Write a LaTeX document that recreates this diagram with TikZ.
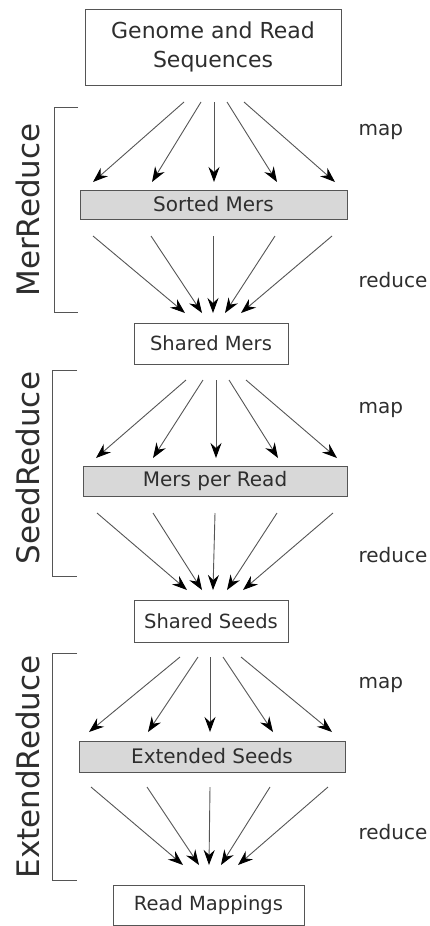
\documentclass[tikz,border=0pt]{standalone}
\usepackage{fontspec}
\setmainfont{DejaVu Sans}
\usetikzlibrary{arrows.meta}
\definecolor{boxline}{HTML}{555555}
\definecolor{linegray}{HTML}{555555}
\definecolor{txt}{HTML}{2E2E2E}
\definecolor{fillgray}{HTML}{D8D8D8}
\begin{document}
\begin{tikzpicture}[x=1pt,y=-1pt,
  box/.style={draw=boxline, line width=1pt, text=txt, inner sep=0pt,
    font=\fontsize{19.5}{24}\selectfont},
  graybox/.style={box, fill=fillgray, font=\fontsize{20}{24}\selectfont},
  arr/.style={draw=linegray, line width=0.9pt,
    -{Stealth[length=15pt,width=11pt,inset=5pt,color=black]}},
  brack/.style={draw=boxline, line width=1pt},
  phase/.style={rotate=90, text=txt, font=\fontsize{31}{31}\selectfont},
  steplabel/.style={anchor=west, text=txt, font=\fontsize{20}{24}\selectfont}]
\useasboundingbox (0,0) rectangle (429,926);

% ---------- nodes ----------
\node[box, minimum width=256pt, minimum height=76pt, align=center,
      font=\fontsize{22}{29}\selectfont] (genome) at (213,47)
      {Genome and Read\\Sequences};
\node[graybox, minimum width=267pt, minimum height=29pt] (sorted) at (213.5,204.5) {Sorted Mers};
\node[box, minimum width=154pt, minimum height=41pt] (sharedmers) at (211,343.5) {Shared Mers};
\node[graybox, minimum width=264pt, minimum height=30pt] (mpr) at (215,481) {Mers per Read};
\node[box, minimum width=154pt, minimum height=42pt] (sharedseeds) at (211,621) {Shared Seeds};
\node[graybox, minimum width=266pt, minimum height=31pt] (ext) at (212,756.5) {Extended Seeds};
\node[box, minimum width=191pt, minimum height=40pt] (mappings) at (208.5,905) {Read Mappings};

% ---------- phase brackets and labels ----------
\draw[brack] (78,107) -- (54,107) -- (54,312) -- (78,312);
\draw[brack] (77,370) -- (52,370) -- (52,576) -- (77,576);
\draw[brack] (77,653) -- (52,653) -- (52,880) -- (77,880);
\node[phase] (lmer) at (28,210) {MerReduce};
\node[phase] (lseed) at (28,468) {SeedReduce};
\node[phase] (lext) at (28,767) {ExtendReduce};

\node[steplabel] (map1) at (355,132) {map};
\node[steplabel] (red1) at (355,280) {reduce};
\node[steplabel] (map2) at (355,410) {map};
\node[steplabel] (red2) at (355,555) {reduce};
\node[steplabel] (map3) at (355,685) {map};
\node[steplabel] (red3) at (355,832) {reduce};

% ---------- arrow end points ----------
% section 1
\foreach \i/\s/\t in {1/184/93, 2/201/152, 3/214/214, 4/227/277, 5/244/335} {
  \coordinate (ams\i) at (\s,102);
  \coordinate (amt\i) at (\t,182);
}
\foreach \i/\s/\t in {1/93/185, 2/151/202, 3/213/213, 4/275/225, 5/332/241} {
  \coordinate (ars\i) at (\s,236);
  \coordinate (art\i) at (\t,313);
}
% section 2
\foreach \i/\s/\t in {1/186/96, 2/203/153, 3/216/216, 4/229/278, 5/246/337} {
  \coordinate (bms\i) at (\s,380);
  \coordinate (bmt\i) at (\t,458);
}
\foreach \i/\s/\t in {1/97/187, 2/153/202, 3/215/213, 4/277/227, 5/333/243} {
  \coordinate (brs\i) at (\s,513);
  \coordinate (brt\i) at (\t,590);
}
% section 3
\foreach \i/\s/\t in {1/180/89, 2/198/148, 3/210/210, 4/223/273, 5/241/332} {
  \coordinate (cms\i) at (\s,657);
  \coordinate (cmt\i) at (\t,732);
}
\foreach \i/\s/\t in {1/91/183, 2/147/199, 3/210/209, 4/270/221, 5/328/238} {
  \coordinate (crs\i) at (\s,787);
  \coordinate (crt\i) at (\t,865);
}

% ---------- arrows ----------
\foreach \p in {a,b,c} {
  \foreach \i in {1,...,5} {
    \draw[arr] (\p ms\i) -- (\p mt\i);
    \draw[arr] (\p rs\i) -- (\p rt\i);
  }
}
\end{tikzpicture}
\end{document}
